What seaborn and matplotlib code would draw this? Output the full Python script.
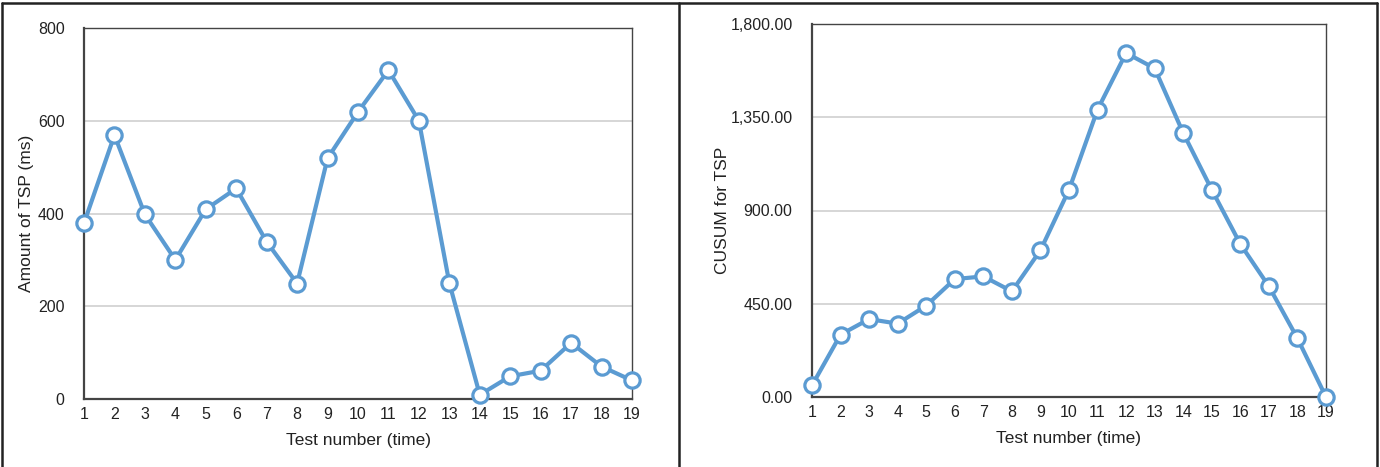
import matplotlib
import matplotlib.pyplot as plt
import pandas as pd
import seaborn as sns
from matplotlib.lines import Line2D
from matplotlib.ticker import FuncFormatter

matplotlib.use("agg")

tests = list(range(1, 20))
tsp_amount = [379, 569, 398, 300, 409, 454, 339, 249, 519, 619, 709, 600, 250, 9, 49, 61, 121, 70, 40]
tsp_cusum = [56, 301, 376, 354, 441, 569, 582, 510, 708, 1000, 1387, 1660, 1586, 1274, 1000, 738, 534, 283, 0]
left_yticks = [0, 200, 400, 600, 800]
right_yticks = [0, 450, 900, 1350, 1800]

sns.set_style("white")
plt.rcParams["font.family"] = ["Liberation Sans", "DejaVu Sans"]

line_color = "#5b9bd2"
text_color = "#222222"

fig = plt.figure(figsize=(13.8, 4.67), dpi=100)

# panel borders
fig.add_artist(Line2D([2 / 1380, 1377 / 1380], [1 - 3 / 467, 1 - 3 / 467], transform=fig.transFigure, color="#222222", lw=1.8))
for xp in [2, 679, 1377]:
    fig.add_artist(Line2D([xp / 1380, xp / 1380], [0, 1 - 3 / 467], transform=fig.transFigure, color="#222222", lw=1.8))

panels = [
    ([84, 28, 632, 399], tsp_amount, left_yticks, "Amount of TSP (ms)", lambda v, p: "%d" % v, 3),
    ([812, 24, 1326, 397], tsp_cusum, right_yticks, "CUSUM for TSP", lambda v, p: "{:,.2f}".format(v), 0),
]

for box, values, yticks, ylabel, fmt, lpad in panels:
    x0, y0, x1, y1 = box
    ax = fig.add_axes([x0 / 1380, 1 - y1 / 467, (x1 - x0) / 1380, (y1 - y0) / 467])
    df = pd.DataFrame({"test": tests, "value": values})
    ax.yaxis.grid(True, color="#cfcfcf", lw=1.2, zorder=0)
    ax.set_axisbelow(True)
    sns.lineplot(data=df, x="test", y="value", ax=ax, color=line_color, lw=3.0,
                 marker="o", markersize=11, markerfacecolor="white",
                 markeredgecolor=line_color, markeredgewidth=2.3, clip_on=False, zorder=3)
    ax.set_xlim(1, 19)
    ax.set_ylim(yticks[0], yticks[-1])
    ax.set_xticks(tests)
    ax.set_yticks(yticks)
    ax.yaxis.set_major_formatter(FuncFormatter(fmt))
    ax.tick_params(axis="both", length=0, labelsize=11.5, colors=text_color)
    ax.tick_params(axis="x", pad=6)
    ax.tick_params(axis="y", pad=14)
    for s in ax.spines.values():
        s.set_color("#444444")
        s.set_linewidth(1.0)
    ax.spines["bottom"].set_linewidth(1.6)
    ax.spines["left"].set_linewidth(1.6)
    ax.set_xlabel("Test number (time)", fontsize=12.5, color=text_color, labelpad=8)
    ax.set_ylabel(ylabel, fontsize=12.5, color=text_color, labelpad=lpad)

fig.savefig("out.png", dpi=100)
